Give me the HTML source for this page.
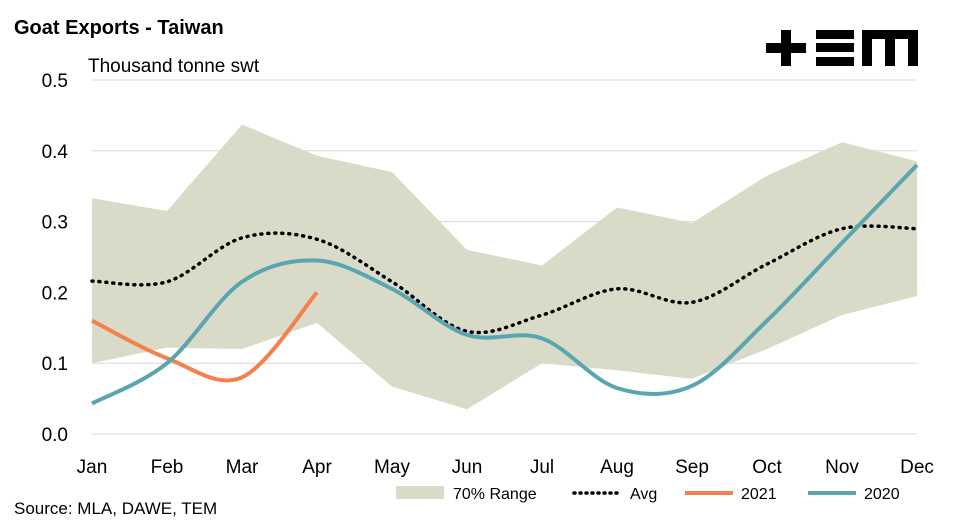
<!DOCTYPE html>
<html><head><meta charset="utf-8"><style>
body{margin:0;background:#fff;font-family:"Liberation Sans",sans-serif;}
svg text{font-family:"Liberation Sans",sans-serif;}
</style></head><body>
<svg id="c" width="956" height="527" xmlns="http://www.w3.org/2000/svg">
<text x="14" y="34" font-size="20" font-weight="bold" fill="#000">Goat Exports - Taiwan</text>
<text x="88" y="72" font-size="19" fill="#000">Thousand tonne swt</text>
<g fill="#000">
<rect x="766" y="43" width="40" height="10"/><rect x="781" y="30" width="10" height="36"/>
<rect x="816" y="30" width="38" height="9"/><rect x="816" y="43" width="38" height="9"/><rect x="816" y="57" width="38" height="9"/>
<path d="M862 30h56v36h-10v-27h-13v27h-10v-27h-13v27h-10z"/>
</g>
<g id="grid"></g><g id="range"></g><g id="lines"></g><g id="axes"></g>
<text x="14" y="514" font-size="17" fill="#000">Source: MLA, DAWE, TEM</text>
<g font-size="16">
<g><rect x="396" y="486" width="48" height="13" fill="#d9dbc8"/><text x="453" y="499">70% Range</text></g>
<g><line x1="574" y1="493" x2="622" y2="493" stroke="#000" stroke-width="3.5" stroke-dasharray="1 5" stroke-linecap="round"/><text x="630" y="499">Avg</text></g>
<g><line x1="685" y1="493" x2="733" y2="493" stroke="#f4804d" stroke-width="4"/><text x="741" y="499">2021</text></g>
<g><line x1="808" y1="493" x2="856" y2="493" stroke="#5aa6b0" stroke-width="4"/><text x="864" y="499">2020</text></g>
</g>
</svg>
<script>
const months=["Jan","Feb","Mar","Apr","May","Jun","Jul","Aug","Sep","Oct","Nov","Dec"];
const yTicks=[0,0.1,0.2,0.3,0.4,0.5];
const rangeHigh=[0.333,0.315,0.437,0.393,0.37,0.26,0.238,0.32,0.298,0.365,0.412,0.385];
const rangeLow=[0.1,0.122,0.12,0.157,0.067,0.035,0.1,0.09,0.078,0.12,0.168,0.195];
const avg=[0.216,0.215,0.277,0.275,0.215,0.145,0.168,0.205,0.186,0.24,0.29,0.29];
const s2020=[0.043,0.1,0.215,0.245,0.205,0.14,0.135,0.065,0.068,0.16,0.27,0.38];
const s2021=[0.16,0.107,0.08,0.2];
const NS="http://www.w3.org/2000/svg";
const X=i=>92+i*(917-92)/11, Y=v=>434-v*708;
function mk(t,a,p){const e=document.createElementNS(NS,t);for(const k in a)e.setAttribute(k,a[k]);p.appendChild(e);return e;}
const grid=document.getElementById('grid'),axes=document.getElementById('axes');
yTicks.forEach(v=>{
 if(v>0){const l=mk('line',{x1:92,x2:917,y1:Y(v),y2:Y(v),stroke:'#d9d9d9','stroke-width':1},grid);
 
 }
 const t=mk('text',{x:68,y:Y(v)+7,'font-size':19,'text-anchor':'end'},axes);t.textContent=v.toFixed(1);
 
 
});
const ax=mk('line',{x1:92,x2:917,y1:434,y2:434,stroke:'#d9d9d9'},axes);


months.forEach((m,i)=>{const t=mk('text',{x:X(i),y:473,'font-size':19,'text-anchor':'middle'},axes);t.textContent=m;
 
 });
let d='M'+rangeHigh.map((v,i)=>X(i)+' '+Y(v)).join('L');
for(let i=rangeLow.length-1;i>=0;i--)d+='L'+X(i)+' '+Y(rangeLow[i]);
const r=mk('path',{d:d+'Z',fill:'#d9dbc8'},document.getElementById('range'));


function smooth(vals){const p=vals.map((v,i)=>[X(i),Y(v)]);let s='M'+p[0];
 for(let i=0;i<p.length-1;i++){const p0=p[i-1]||p[i],p1=p[i],p2=p[i+1],p3=p[i+2]||p2;
  s+='C'+(p1[0]+(p2[0]-p0[0])/6)+' '+(p1[1]+(p2[1]-p0[1])/6)+' '+(p2[0]-(p3[0]-p1[0])/6)+' '+(p2[1]-(p3[1]-p1[1])/6)+' '+p2;}
 return s;}
const L=document.getElementById('lines');
const a=mk('path',{d:smooth(avg),fill:'none',stroke:'#000','stroke-width':3.5,'stroke-dasharray':'1 6','stroke-linecap':'round'},L);


const b=mk('path',{d:smooth(s2021),fill:'none',stroke:'#f4804d','stroke-width':4},L);


const c=mk('path',{d:smooth(s2020),fill:'none',stroke:'#5aa6b0','stroke-width':4},L);


</script>
</body></html>
